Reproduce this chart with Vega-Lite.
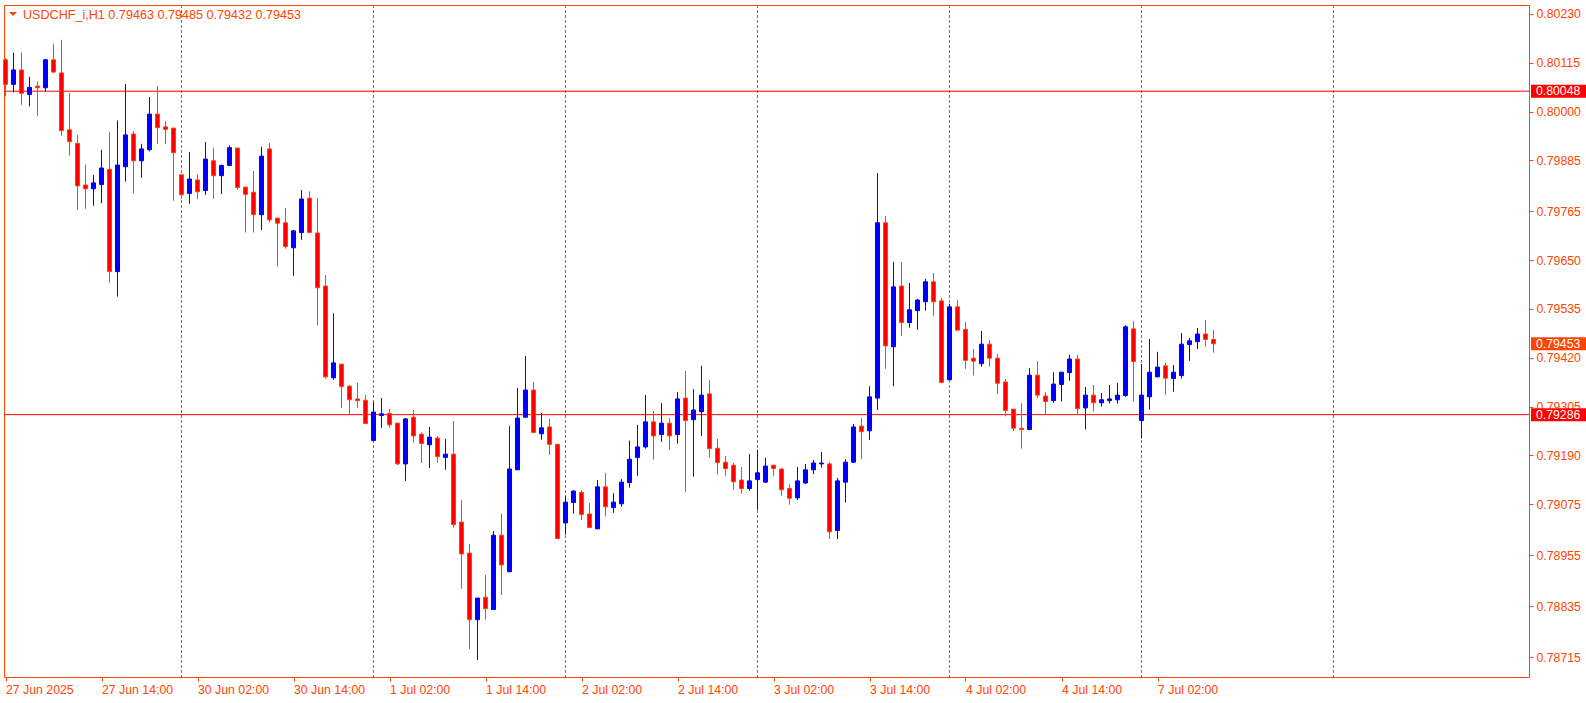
{
  "$schema": "https://vega.github.io/schema/vega-lite/v6.json",
  "width": 1525,
  "height": 672,
  "autosize": "none",
  "padding": {"left": 4, "top": 5, "right": 57, "bottom": 26},
  "background": "white",
  "config": {
    "view": {"stroke": "#FF4500", "strokeWidth": 1},
    "font": "Liberation Sans"
  },
  "title": {
    "text": "USDCHF_i,H1   0.79463 0.79485 0.79432 0.79453",
    "anchor": "start",
    "frame": "group",
    "offset": -17,
    "dx": 19,
    "fontSize": 12.6,
    "fontWeight": "normal",
    "color": "#FF4500",
    "font": "Liberation Sans"
  },
  "datasets": {
    "bars": [
      {"i":0,"t":"2025-06-27 02:00","o":0.80122,"h":0.80126,"l":0.80036,"c":0.80064},
      {"i":1,"t":"2025-06-27 03:00","o":0.80064,"h":0.80139,"l":0.80045,"c":0.80098},
      {"i":2,"t":"2025-06-27 04:00","o":0.80098,"h":0.80139,"l":0.80016,"c":0.80043},
      {"i":3,"t":"2025-06-27 05:00","o":0.80040,"h":0.80082,"l":0.80012,"c":0.80057},
      {"i":4,"t":"2025-06-27 06:00","o":0.80060,"h":0.80071,"l":0.79990,"c":0.80056},
      {"i":5,"t":"2025-06-27 07:00","o":0.80056,"h":0.80124,"l":0.80047,"c":0.80122},
      {"i":6,"t":"2025-06-27 08:00","o":0.80122,"h":0.80160,"l":0.80091,"c":0.80093},
      {"i":7,"t":"2025-06-27 09:00","o":0.80091,"h":0.80169,"l":0.79943,"c":0.79955},
      {"i":8,"t":"2025-06-27 10:00","o":0.79957,"h":0.80044,"l":0.79896,"c":0.79929},
      {"i":9,"t":"2025-06-27 11:00","o":0.79925,"h":0.79945,"l":0.79768,"c":0.79825},
      {"i":10,"t":"2025-06-27 12:00","o":0.79827,"h":0.79875,"l":0.79771,"c":0.79818},
      {"i":11,"t":"2025-06-27 13:00","o":0.79818,"h":0.79851,"l":0.79778,"c":0.79832},
      {"i":12,"t":"2025-06-27 14:00","o":0.79828,"h":0.79910,"l":0.79784,"c":0.79867},
      {"i":13,"t":"2025-06-27 15:00","o":0.79864,"h":0.79952,"l":0.79597,"c":0.79623},
      {"i":14,"t":"2025-06-27 16:00","o":0.79623,"h":0.79979,"l":0.79564,"c":0.79874},
      {"i":15,"t":"2025-06-27 17:00","o":0.79870,"h":0.80065,"l":0.79835,"c":0.79945},
      {"i":16,"t":"2025-06-27 18:00","o":0.79947,"h":0.79954,"l":0.79807,"c":0.79884},
      {"i":17,"t":"2025-06-27 19:00","o":0.79884,"h":0.79924,"l":0.79844,"c":0.79912},
      {"i":18,"t":"2025-06-27 20:00","o":0.79910,"h":0.80034,"l":0.79906,"c":0.79994},
      {"i":19,"t":"2025-06-27 21:00","o":0.79994,"h":0.80060,"l":0.79924,"c":0.79962},
      {"i":20,"t":"2025-06-27 22:00","o":0.79964,"h":0.79978,"l":0.79924,"c":0.79958},
      {"i":21,"t":"2025-06-27 23:00","o":0.79961,"h":0.79961,"l":0.79790,"c":0.79903},
      {"i":22,"t":"2025-06-30 00:00","o":0.79851,"h":0.79851,"l":0.79794,"c":0.79804},
      {"i":23,"t":"2025-06-30 01:00","o":0.79807,"h":0.79905,"l":0.79783,"c":0.79841},
      {"i":24,"t":"2025-06-30 02:00","o":0.79839,"h":0.79852,"l":0.79794,"c":0.79811},
      {"i":25,"t":"2025-06-30 03:00","o":0.79814,"h":0.79928,"l":0.79804,"c":0.79888},
      {"i":26,"t":"2025-06-30 04:00","o":0.79884,"h":0.79915,"l":0.79794,"c":0.79849},
      {"i":27,"t":"2025-06-30 05:00","o":0.79849,"h":0.79875,"l":0.79806,"c":0.79873},
      {"i":28,"t":"2025-06-30 06:00","o":0.79873,"h":0.79920,"l":0.79873,"c":0.79915},
      {"i":29,"t":"2025-06-30 07:00","o":0.79914,"h":0.79914,"l":0.79816,"c":0.79821},
      {"i":30,"t":"2025-06-30 08:00","o":0.79822,"h":0.79822,"l":0.79715,"c":0.79805},
      {"i":31,"t":"2025-06-30 09:00","o":0.79810,"h":0.79860,"l":0.79715,"c":0.79757},
      {"i":32,"t":"2025-06-30 10:00","o":0.79757,"h":0.79917,"l":0.79721,"c":0.79895},
      {"i":33,"t":"2025-06-30 11:00","o":0.79912,"h":0.79926,"l":0.79739,"c":0.79745},
      {"i":34,"t":"2025-06-30 12:00","o":0.79749,"h":0.79749,"l":0.79635,"c":0.79737},
      {"i":35,"t":"2025-06-30 13:00","o":0.79738,"h":0.79773,"l":0.79677,"c":0.79682},
      {"i":36,"t":"2025-06-30 14:00","o":0.79679,"h":0.79721,"l":0.79613,"c":0.79719},
      {"i":37,"t":"2025-06-30 15:00","o":0.79715,"h":0.79815,"l":0.79698,"c":0.79794},
      {"i":38,"t":"2025-06-30 16:00","o":0.79796,"h":0.79812,"l":0.79715,"c":0.79715},
      {"i":39,"t":"2025-06-30 17:00","o":0.79714,"h":0.79796,"l":0.79496,"c":0.79585},
      {"i":40,"t":"2025-06-30 18:00","o":0.79589,"h":0.79615,"l":0.79371,"c":0.79375},
      {"i":41,"t":"2025-06-30 19:00","o":0.79373,"h":0.79525,"l":0.79368,"c":0.79408},
      {"i":42,"t":"2025-06-30 20:00","o":0.79405,"h":0.79405,"l":0.79302,"c":0.79352},
      {"i":43,"t":"2025-06-30 21:00","o":0.79353,"h":0.79356,"l":0.79288,"c":0.79321},
      {"i":44,"t":"2025-06-30 22:00","o":0.79323,"h":0.79361,"l":0.79302,"c":0.79319},
      {"i":45,"t":"2025-06-30 23:00","o":0.79320,"h":0.79332,"l":0.79265,"c":0.79265},
      {"i":46,"t":"2025-07-01 00:00","o":0.79225,"h":0.79317,"l":0.79225,"c":0.79292},
      {"i":47,"t":"2025-07-01 01:00","o":0.79284,"h":0.79325,"l":0.79255,"c":0.79288},
      {"i":48,"t":"2025-07-01 02:00","o":0.79289,"h":0.79300,"l":0.79255,"c":0.79262},
      {"i":49,"t":"2025-07-01 03:00","o":0.79266,"h":0.79266,"l":0.79167,"c":0.79170},
      {"i":50,"t":"2025-07-01 04:00","o":0.79170,"h":0.79278,"l":0.79130,"c":0.79276},
      {"i":51,"t":"2025-07-01 05:00","o":0.79280,"h":0.79297,"l":0.79220,"c":0.79236},
      {"i":52,"t":"2025-07-01 06:00","o":0.79240,"h":0.79244,"l":0.79172,"c":0.79218},
      {"i":53,"t":"2025-07-01 07:00","o":0.79215,"h":0.79257,"l":0.79160,"c":0.79233},
      {"i":54,"t":"2025-07-01 08:00","o":0.79231,"h":0.79236,"l":0.79173,"c":0.79187},
      {"i":55,"t":"2025-07-01 09:00","o":0.79185,"h":0.79229,"l":0.79156,"c":0.79193},
      {"i":56,"t":"2025-07-01 10:00","o":0.79193,"h":0.79271,"l":0.79020,"c":0.79027},
      {"i":57,"t":"2025-07-01 11:00","o":0.79033,"h":0.79085,"l":0.78876,"c":0.78958},
      {"i":58,"t":"2025-07-01 12:00","o":0.78960,"h":0.78981,"l":0.78734,"c":0.78803},
      {"i":59,"t":"2025-07-01 13:00","o":0.78803,"h":0.78854,"l":0.78708,"c":0.78854},
      {"i":60,"t":"2025-07-01 14:00","o":0.78856,"h":0.78908,"l":0.78803,"c":0.78829},
      {"i":61,"t":"2025-07-01 15:00","o":0.78827,"h":0.79012,"l":0.78826,"c":0.79002},
      {"i":62,"t":"2025-07-01 16:00","o":0.79002,"h":0.79053,"l":0.78861,"c":0.78932},
      {"i":63,"t":"2025-07-01 17:00","o":0.78916,"h":0.79259,"l":0.78916,"c":0.79158},
      {"i":64,"t":"2025-07-01 18:00","o":0.79156,"h":0.79349,"l":0.79156,"c":0.79278},
      {"i":65,"t":"2025-07-01 19:00","o":0.79280,"h":0.79424,"l":0.79279,"c":0.79344},
      {"i":66,"t":"2025-07-01 20:00","o":0.79344,"h":0.79363,"l":0.79244,"c":0.79244},
      {"i":67,"t":"2025-07-01 21:00","o":0.79241,"h":0.79290,"l":0.79227,"c":0.79255},
      {"i":68,"t":"2025-07-01 22:00","o":0.79257,"h":0.79276,"l":0.79191,"c":0.79216},
      {"i":69,"t":"2025-07-01 23:00","o":0.79216,"h":0.79216,"l":0.78994,"c":0.78994},
      {"i":70,"t":"2025-07-02 00:00","o":0.79031,"h":0.79094,"l":0.79004,"c":0.79080},
      {"i":71,"t":"2025-07-02 01:00","o":0.79079,"h":0.79108,"l":0.79053,"c":0.79106},
      {"i":72,"t":"2025-07-02 02:00","o":0.79103,"h":0.79108,"l":0.79038,"c":0.79051},
      {"i":73,"t":"2025-07-02 03:00","o":0.79052,"h":0.79078,"l":0.79020,"c":0.79020},
      {"i":74,"t":"2025-07-02 04:00","o":0.79017,"h":0.79132,"l":0.79017,"c":0.79116},
      {"i":75,"t":"2025-07-02 05:00","o":0.79116,"h":0.79149,"l":0.79046,"c":0.79069},
      {"i":76,"t":"2025-07-02 06:00","o":0.79067,"h":0.79101,"l":0.79055,"c":0.79080},
      {"i":77,"t":"2025-07-02 07:00","o":0.79076,"h":0.79134,"l":0.79069,"c":0.79127},
      {"i":78,"t":"2025-07-02 08:00","o":0.79126,"h":0.79225,"l":0.79114,"c":0.79181},
      {"i":79,"t":"2025-07-02 09:00","o":0.79185,"h":0.79262,"l":0.79142,"c":0.79210},
      {"i":80,"t":"2025-07-02 10:00","o":0.79210,"h":0.79332,"l":0.79206,"c":0.79269},
      {"i":81,"t":"2025-07-02 11:00","o":0.79269,"h":0.79295,"l":0.79180,"c":0.79236},
      {"i":82,"t":"2025-07-02 12:00","o":0.79239,"h":0.79313,"l":0.79222,"c":0.79266},
      {"i":83,"t":"2025-07-02 13:00","o":0.79266,"h":0.79278,"l":0.79203,"c":0.79236},
      {"i":84,"t":"2025-07-02 14:00","o":0.79239,"h":0.79339,"l":0.79218,"c":0.79323},
      {"i":85,"t":"2025-07-02 15:00","o":0.79325,"h":0.79389,"l":0.79104,"c":0.79272},
      {"i":86,"t":"2025-07-02 16:00","o":0.79274,"h":0.79346,"l":0.79140,"c":0.79297},
      {"i":87,"t":"2025-07-02 17:00","o":0.79293,"h":0.79401,"l":0.79236,"c":0.79332},
      {"i":88,"t":"2025-07-02 18:00","o":0.79335,"h":0.79368,"l":0.79185,"c":0.79206},
      {"i":89,"t":"2025-07-02 19:00","o":0.79207,"h":0.79229,"l":0.79145,"c":0.79173},
      {"i":90,"t":"2025-07-02 20:00","o":0.79174,"h":0.79189,"l":0.79142,"c":0.79159},
      {"i":91,"t":"2025-07-02 21:00","o":0.79167,"h":0.79172,"l":0.79109,"c":0.79128},
      {"i":92,"t":"2025-07-02 22:00","o":0.79132,"h":0.79163,"l":0.79100,"c":0.79112},
      {"i":93,"t":"2025-07-02 23:00","o":0.79112,"h":0.79193,"l":0.79107,"c":0.79130},
      {"i":94,"t":"2025-07-03 00:00","o":0.79133,"h":0.79203,"l":0.79062,"c":0.79149},
      {"i":95,"t":"2025-07-03 01:00","o":0.79127,"h":0.79184,"l":0.79125,"c":0.79165},
      {"i":96,"t":"2025-07-03 02:00","o":0.79167,"h":0.79167,"l":0.79142,"c":0.79159},
      {"i":97,"t":"2025-07-03 03:00","o":0.79158,"h":0.79160,"l":0.79095,"c":0.79109},
      {"i":98,"t":"2025-07-03 04:00","o":0.79112,"h":0.79123,"l":0.79074,"c":0.79089},
      {"i":99,"t":"2025-07-03 05:00","o":0.79090,"h":0.79163,"l":0.79085,"c":0.79130},
      {"i":100,"t":"2025-07-03 06:00","o":0.79125,"h":0.79170,"l":0.79123,"c":0.79156},
      {"i":101,"t":"2025-07-03 07:00","o":0.79156,"h":0.79179,"l":0.79146,"c":0.79172},
      {"i":102,"t":"2025-07-03 08:00","o":0.79170,"h":0.79198,"l":0.79161,"c":0.79172},
      {"i":103,"t":"2025-07-03 09:00","o":0.79170,"h":0.79174,"l":0.78993,"c":0.79010},
      {"i":104,"t":"2025-07-03 10:00","o":0.79013,"h":0.79137,"l":0.78993,"c":0.79130},
      {"i":105,"t":"2025-07-03 11:00","o":0.79127,"h":0.79181,"l":0.79079,"c":0.79174},
      {"i":106,"t":"2025-07-03 12:00","o":0.79174,"h":0.79264,"l":0.79172,"c":0.79257},
      {"i":107,"t":"2025-07-03 13:00","o":0.79259,"h":0.79278,"l":0.79181,"c":0.79246},
      {"i":108,"t":"2025-07-03 14:00","o":0.79248,"h":0.79353,"l":0.79226,"c":0.79328},
      {"i":109,"t":"2025-07-03 15:00","o":0.79325,"h":0.79855,"l":0.79297,"c":0.79738},
      {"i":110,"t":"2025-07-03 16:00","o":0.79738,"h":0.79754,"l":0.79394,"c":0.79448},
      {"i":111,"t":"2025-07-03 17:00","o":0.79446,"h":0.79646,"l":0.79353,"c":0.79587},
      {"i":112,"t":"2025-07-03 18:00","o":0.79589,"h":0.79646,"l":0.79472,"c":0.79503},
      {"i":113,"t":"2025-07-03 19:00","o":0.79503,"h":0.79596,"l":0.79491,"c":0.79533},
      {"i":114,"t":"2025-07-03 20:00","o":0.79531,"h":0.79559,"l":0.79486,"c":0.79556},
      {"i":115,"t":"2025-07-03 21:00","o":0.79552,"h":0.79606,"l":0.79531,"c":0.79599},
      {"i":116,"t":"2025-07-03 22:00","o":0.79599,"h":0.79620,"l":0.79519,"c":0.79552},
      {"i":117,"t":"2025-07-03 23:00","o":0.79554,"h":0.79561,"l":0.79362,"c":0.79362},
      {"i":118,"t":"2025-07-04 00:00","o":0.79368,"h":0.79547,"l":0.79368,"c":0.79540},
      {"i":119,"t":"2025-07-04 01:00","o":0.79540,"h":0.79556,"l":0.79485,"c":0.79485},
      {"i":120,"t":"2025-07-04 02:00","o":0.79487,"h":0.79504,"l":0.79394,"c":0.79414},
      {"i":121,"t":"2025-07-04 03:00","o":0.79419,"h":0.79441,"l":0.79378,"c":0.79412},
      {"i":122,"t":"2025-07-04 04:00","o":0.79406,"h":0.79483,"l":0.79399,"c":0.79452},
      {"i":123,"t":"2025-07-04 05:00","o":0.79452,"h":0.79462,"l":0.79399,"c":0.79419},
      {"i":124,"t":"2025-07-04 06:00","o":0.79419,"h":0.79429,"l":0.79335,"c":0.79360},
      {"i":125,"t":"2025-07-04 07:00","o":0.79363,"h":0.79370,"l":0.79282,"c":0.79296},
      {"i":126,"t":"2025-07-04 08:00","o":0.79299,"h":0.79299,"l":0.79247,"c":0.79254},
      {"i":127,"t":"2025-07-04 09:00","o":0.79254,"h":0.79313,"l":0.79206,"c":0.79251},
      {"i":128,"t":"2025-07-04 10:00","o":0.79251,"h":0.79396,"l":0.79251,"c":0.79379},
      {"i":129,"t":"2025-07-04 11:00","o":0.79379,"h":0.79412,"l":0.79325,"c":0.79332},
      {"i":130,"t":"2025-07-04 12:00","o":0.79330,"h":0.79339,"l":0.79287,"c":0.79317},
      {"i":131,"t":"2025-07-04 13:00","o":0.79319,"h":0.79386,"l":0.79314,"c":0.79358},
      {"i":132,"t":"2025-07-04 14:00","o":0.79357,"h":0.79386,"l":0.79317,"c":0.79386},
      {"i":133,"t":"2025-07-04 15:00","o":0.79385,"h":0.79427,"l":0.79366,"c":0.79417},
      {"i":134,"t":"2025-07-04 16:00","o":0.79417,"h":0.79427,"l":0.79286,"c":0.79300},
      {"i":135,"t":"2025-07-04 17:00","o":0.79302,"h":0.79351,"l":0.79251,"c":0.79332},
      {"i":136,"t":"2025-07-04 18:00","o":0.79332,"h":0.79356,"l":0.79293,"c":0.79314},
      {"i":137,"t":"2025-07-04 19:00","o":0.79314,"h":0.79337,"l":0.79305,"c":0.79321},
      {"i":138,"t":"2025-07-04 20:00","o":0.79319,"h":0.79356,"l":0.79312,"c":0.79323},
      {"i":139,"t":"2025-07-04 21:00","o":0.79321,"h":0.79361,"l":0.79312,"c":0.79332},
      {"i":140,"t":"2025-07-04 22:00","o":0.79331,"h":0.79497,"l":0.79328,"c":0.79493},
      {"i":141,"t":"2025-07-04 23:00","o":0.79488,"h":0.79507,"l":0.79317,"c":0.79411},
      {"i":142,"t":"2025-07-07 00:00","o":0.79272,"h":0.79405,"l":0.79230,"c":0.79332},
      {"i":143,"t":"2025-07-07 01:00","o":0.79328,"h":0.79464,"l":0.79298,"c":0.79386},
      {"i":144,"t":"2025-07-07 02:00","o":0.79375,"h":0.79434,"l":0.79375,"c":0.79398},
      {"i":145,"t":"2025-07-07 03:00","o":0.79401,"h":0.79408,"l":0.79333,"c":0.79372},
      {"i":146,"t":"2025-07-07 04:00","o":0.79371,"h":0.79403,"l":0.79340,"c":0.79386},
      {"i":147,"t":"2025-07-07 05:00","o":0.79378,"h":0.79478,"l":0.79371,"c":0.79452},
      {"i":148,"t":"2025-07-07 06:00","o":0.79451,"h":0.79467,"l":0.79413,"c":0.79460},
      {"i":149,"t":"2025-07-07 07:00","o":0.79458,"h":0.79490,"l":0.79441,"c":0.79476},
      {"i":150,"t":"2025-07-07 08:00","o":0.79476,"h":0.79509,"l":0.79446,"c":0.79463},
      {"i":151,"t":"2025-07-07 09:00","o":0.79463,"h":0.79485,"l":0.79432,"c":0.79453}
    ],
    "seps": [{"i":22},{"i":46},{"i":70},{"i":94},{"i":118},{"i":142},{"i":166}],
    "levels": [{"p":0.80048},{"p":0.79286}],
    "tags": [
      {"p":0.80048,"label":"0.80048","kind":"level"},
      {"p":0.79453,"label":"0.79453","kind":"bid"},
      {"p":0.79286,"label":"0.79286","kind":"level"}
    ]
  },
  "layer": [
    {
      "data": {"name": "seps"},
      "mark": {"type": "rule", "color": "#FF4500", "strokeWidth": 1, "strokeDash": [3, 2]},
      "encoding": {
        "x": {
          "field": "i", "type": "quantitative",
          "scale": {"domain": [-0.1875, 190.4375], "nice": false, "zero": false, "padding": 0},
          "axis": {
            "orient": "bottom",
            "values": [0, 12, 24, 36, 48, 60, 72, 84, 96, 108, 120, 132, 144],
            "labelExpr": "['27 Jun 2025','27 Jun 14:00','30 Jun 02:00','30 Jun 14:00','1 Jul 02:00','1 Jul 14:00','2 Jul 02:00','2 Jul 14:00','3 Jul 02:00','3 Jul 14:00','4 Jul 02:00','4 Jul 14:00','7 Jul 02:00'][round(datum.value/12)]",
            "title": null, "grid": false, "domain": false,
            "ticks": true, "tickSize": 4, "tickColor": "#FF4500",
            "labelAlign": "left", "labelBaseline": "top", "labelPadding": 2,
            "labelColor": "#FF4500", "labelFontSize": 12.3, "labelFont": "Liberation Sans",
            "labelOverlap": false, "labelFlush": false
          }
        }
      }
    },
    {
      "data": {"name": "levels"},
      "mark": {"type": "rule", "color": "#FF0000", "strokeWidth": 1},
      "encoding": {
        "y": {
          "field": "p", "type": "quantitative",
          "scale": {"domain": [0.78668, 0.80251], "nice": false, "zero": false, "padding": 0},
          "axis": {
            "orient": "right",
            "values": [0.8023, 0.80115, 0.8, 0.79885, 0.79765, 0.7965, 0.79535, 0.7942, 0.79305, 0.7919, 0.79075, 0.78955, 0.78835, 0.78715],
            "format": ".5f",
            "title": null, "grid": false, "domain": false,
            "ticks": true, "tickSize": 4, "tickColor": "#FF4500",
            "labelAlign": "left", "labelBaseline": "middle", "labelPadding": 3,
            "labelColor": "#FF4500", "labelFontSize": 12.3, "labelFont": "Liberation Sans",
            "labelOverlap": false, "labelFlush": false
          }
        }
      }
    },
    {
      "data": {"name": "bars"},
      "mark": {"type": "rule", "strokeWidth": 1},
      "encoding": {
        "x": {"field": "i", "type": "quantitative"},
        "y": {"field": "l", "type": "quantitative"},
        "y2": {"field": "h"},
        "color": {"condition": {"test": "datum.c >= datum.o", "value": "#0000FF"}, "value": "#FF4500"}
      }
    },
    {
      "data": {"name": "bars"},
      "mark": {"type": "bar", "width": 4, "strokeWidth": 1},
      "encoding": {
        "x": {"field": "i", "type": "quantitative"},
        "y": {"field": "o", "type": "quantitative"},
        "y2": {"field": "c"},
        "fill": {"condition": {"test": "datum.c >= datum.o", "value": "#0000FF"}, "value": "#FF0000"},
        "stroke": {"condition": {"test": "datum.c >= datum.o", "value": "#0000FF"}, "value": "#FF4500"}
      }
    },
    {
      "data": {"values": [{"sym": "menu"}]},
      "mark": {"type": "point", "shape": "M-1,-0.5L1,-0.5L0,0.5Z", "size": 64, "filled": true, "opacity": 1, "color": "#FF4500"},
      "encoding": {
        "x": {"datum": 0.9375, "type": "quantitative"},
        "y": {"datum": 0.8023, "type": "quantitative"}
      }
    },
    {
      "data": {"name": "tags"},
      "mark": {"type": "bar", "height": 13},
      "encoding": {
        "x": {"datum": 190.6875, "type": "quantitative"},
        "x2": {"datum": 197.5625},
        "y": {"field": "p", "type": "quantitative"},
        "fill": {"condition": {"test": "datum.kind === 'bid'", "value": "#FF4500"}, "value": "#FF0000"}
      }
    },
    {
      "data": {"name": "tags"},
      "mark": {"type": "text", "align": "left", "baseline": "middle", "color": "white", "fontSize": 12.3, "font": "Liberation Sans"},
      "encoding": {
        "x": {"datum": 191.3, "type": "quantitative"},
        "y": {"field": "p", "type": "quantitative"},
        "text": {"field": "label"}
      }
    }
  ]
}
